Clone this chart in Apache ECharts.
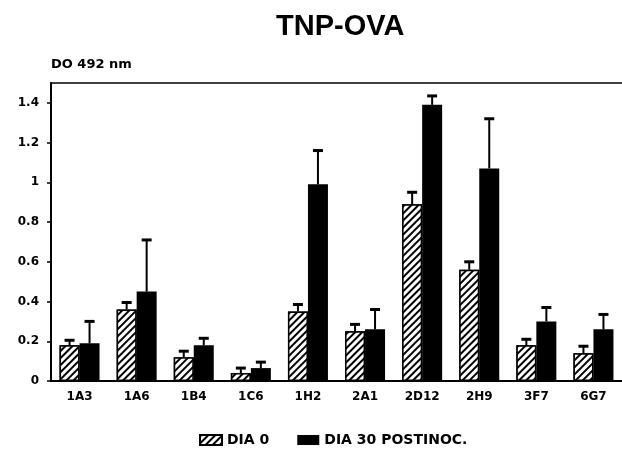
<!DOCTYPE html>
<html>
<head>
<meta charset="utf-8">
<script src="https://cdn.jsdelivr.net/npm/echarts@6/dist/echarts.min.js"></script>
<style>
  html, body { margin: 0; padding: 0; background: #fff; }
  #chart { width: 622px; height: 462px; }
</style>
</head>
<body>
<div id="chart"></div>
<script>
// clones on the x axis
var clones = ['1A3', '1A6', '1B4', '1C6', '1H2', '2A1', '2D12', '2H9', '3F7', '6G7']
// DO 492 nm, day 0 (hatched) and day 30 (black), with upper error
var dia0 = [0.18, 0.36, 0.12, 0.04, 0.35, 0.25, 0.89, 0.56, 0.18, 0.14]
var dia0Err = [0.025, 0.035, 0.03, 0.025, 0.035, 0.035, 0.06, 0.04, 0.03, 0.035]
var dia30 = [0.19, 0.45, 0.18, 0.065, 0.99, 0.26, 1.39, 1.07, 0.30, 0.26]
var dia30Err = [0.11, 0.26, 0.035, 0.03, 0.17, 0.10, 0.045, 0.25, 0.07, 0.075]
var yTicks = [0, 0.2, 0.4, 0.6, 0.8, 1, 1.2, 1.4]

var font = 'DejaVu Sans'
var barW = 20

var chart = echarts.init(document.getElementById('chart'))

// error bar rows: [index, value, value + err]
function errRows(vals, errs) {
  return vals.map(function (v, i) { return [i, v, v + errs[i]] })
}

function errBar(shift) {
  return function (params, api) {
    var base = api.coord([api.value(0), api.value(1)])
    var top = api.coord([api.value(0), api.value(2)])
    var x = base[0] + shift
    return {
      type: 'group',
      children: [
        { type: 'line', shape: { x1: x, y1: base[1], x2: x, y2: top[1] }, style: { stroke: '#000', lineWidth: 2 } },
        { type: 'line', shape: { x1: x - 5, y1: top[1], x2: x + 5, y2: top[1] }, style: { stroke: '#000', lineWidth: 3 } }
      ]
    }
  }
}

var hatch = {
  symbol: 'rect',
  symbolSize: 1,
  color: '#000',
  backgroundColor: '#fff',
  dashArrayX: [1, 0],
  dashArrayY: [2, 3],
  rotation: -Math.PI / 4
}

chart.setOption({
  animation: false,
  backgroundColor: '#fff',
  title: {
    text: 'TNP-OVA',
    left: 271,
    top: 7,
    textStyle: { fontFamily: 'Liberation Sans', fontSize: 29, fontWeight: 'bold', color: '#000' }
  },
  legend: {
    left: 194,
    top: 428,
    itemWidth: 22,
    itemHeight: 10,
    itemGap: 28,
    icon: 'rect',
    textStyle: { fontFamily: font, fontSize: 14, fontWeight: 'bold', color: '#000' },
    data: ['DIA 0', 'DIA 30 POSTINOC.']
  },
  grid: { left: 51, right: -8, top: 83, bottom: 81 },
  xAxis: [{
    type: 'category',
    data: clones,
    axisLine: { lineStyle: { color: '#000', width: 2 } },
    axisTick: { alignWithLabel: true, length: 4, lineStyle: { color: '#000', width: 1.5 } },
    axisLabel: { margin: 10, color: '#000', fontFamily: font, fontSize: 12, fontWeight: 'bold' }
  }, {
    type: 'category',
    data: clones,
    position: 'top',
    axisLine: { lineStyle: { color: '#000', width: 1.5 } },
    axisTick: { show: false },
    axisLabel: { show: false }
  }],
  yAxis: {
    type: 'value',
    min: 0,
    max: 1.5,
    interval: 0.2,
    name: 'DO 492 nm',
    nameLocation: 'end',
    nameGap: 12,
    nameTextStyle: { align: 'left', color: '#000', fontFamily: font, fontSize: 13, fontWeight: 'bold' },
    splitLine: { show: false },
    axisLine: { show: true, lineStyle: { color: '#000', width: 2 } },
    axisTick: { show: true, length: 4, lineStyle: { color: '#000', width: 1.5 } },
    axisLabel: {
      margin: 12,
      showMaxLabel: false,
      color: '#000',
      fontFamily: font,
      fontSize: 12,
      fontWeight: 'bold',
      formatter: function (v) { return yTicks.indexOf(+v.toFixed(1)) >= 0 ? String(+v.toFixed(1)) : '' }
    }
  },
  series: [
    {
      name: 'DIA 0',
      type: 'bar',
      data: dia0,
      barWidth: barW,
      barGap: '0%',
      itemStyle: { color: '#fff', borderColor: '#000', borderWidth: 1.5, decal: hatch }
    },
    {
      name: 'DIA 30 POSTINOC.',
      type: 'bar',
      data: dia30,
      barWidth: barW,
      itemStyle: { color: '#000' }
    },
    {
      type: 'custom',
      renderItem: errBar(-barW / 2),
      data: errRows(dia0, dia0Err),
      z: 3
    },
    {
      type: 'custom',
      renderItem: errBar(barW / 2),
      data: errRows(dia30, dia30Err),
      z: 3
    }
  ]
})
</script>
</body>
</html>
